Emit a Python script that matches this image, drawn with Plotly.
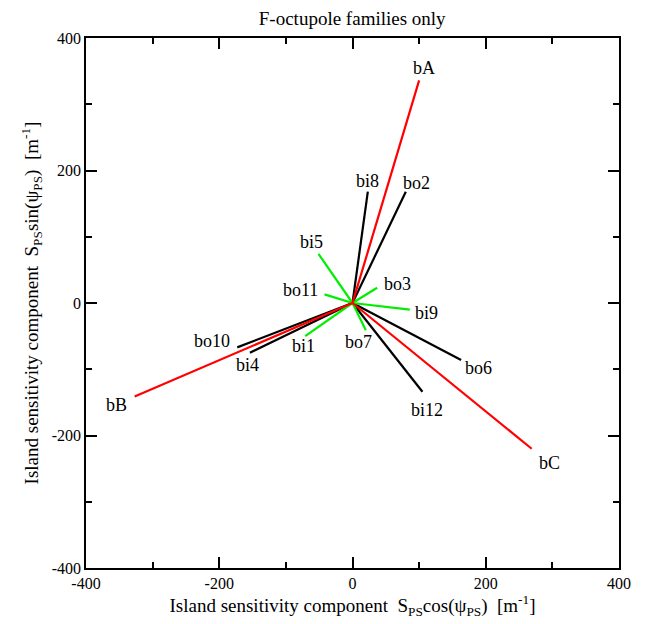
import plotly.graph_objects as go

# Data: endpoint of each family vector (x = S cos(psi), y = S sin(psi)) [m^-1]
red_names = ["bA", "bB", "bC"]
red_x = [100, -327, 269]
red_y = [336, -141, -220]

black_names = ["bi8", "bo2", "bo10", "bi4", "bo6", "bi12"]
black_x = [23, 80, -173, -154, 163, 105]
black_y = [168, 168, -67, -75, -86, -134]

green_names = ["bi5", "bo11", "bo3", "bi9", "bo7", "bi1"]
green_x = [-51, -42, 37, 86, 20, -71]
green_y = [74, 13, 23, -10, -41, -50]

x_ticks = [-400, -200, 0, 200, 400]
x_tick_labels = ["-400", "-200", "0", "200", "400"]
y_ticks = [-400, -200, 0, 200, 400]
y_tick_labels = ["-400", "-200", "0", "200", "400"]

# label offsets in pixels (dx right, dy down)
label_offset = {
    "bA": (5, -12), "bB": (-18, 9), "bC": (18, 14),
    "bi8": (0, -11), "bo2": (11, -9), "bo10": (-25, -6), "bi4": (-2, 12),
    "bo6": (17, 8), "bi12": (5, 18),
    "bi5": (-7, -12), "bo11": (-24, -4), "bo3": (20, -4), "bi9": (17, 3),
    "bo7": (-7, 12), "bi1": (-2, 10),
}

SERIF = "Liberation Serif"
fig = go.Figure()
annotations = []
for names, xs, ys, color in [
    (black_names, black_x, black_y, "#000000"),
    (green_names, green_x, green_y, "#00ee00"),
    (red_names, red_x, red_y, "#ff0000"),
]:
    for n, x, y in zip(names, xs, ys):
        fig.add_trace(go.Scatter(x=[0, x], y=[0, y], mode="lines",
                                 line=dict(color=color, width=2.2),
                                 showlegend=False, hoverinfo="skip"))
        dx, dy = label_offset[n]
        annotations.append(dict(x=x, y=y, xref="x", yref="y", text=n,
                                showarrow=False, xshift=dx, yshift=-dy,
                                font=dict(family=SERIF, size=18, color="black")))

axis_common = dict(
    showgrid=False, zeroline=False, showline=True, linecolor="black",
    linewidth=1.5, mirror="allticks", ticks="inside", ticklen=11,
    tickwidth=1.5, tickcolor="black",
    tickfont=dict(family=SERIF, size=16, color="black"),
    minor=dict(ticks="inside", ticklen=6, tickwidth=1.5, tickcolor="black", dtick=100),
)

fig.update_layout(
    width=647, height=624,
    margin=dict(l=78, r=36, t=30, b=64),
    paper_bgcolor="white", plot_bgcolor="white",
    title=dict(text="F-octupole families only", x=0.532, xanchor="center",
               y=0.984, yanchor="middle",
               font=dict(family=SERIF, size=19, color="black")),
    xaxis=dict(range=[-400, 400], tickvals=x_ticks, ticktext=x_tick_labels,
               title=dict(text="Island sensitivity component  S<sub>PS</sub>cos(ψ<sub>PS</sub>)  [m<sup>-1</sup>]",
                          font=dict(family=SERIF, size=19, color="black"), standoff=4),
               **axis_common),
    yaxis=dict(range=[-400, 400], tickvals=y_ticks, ticktext=y_tick_labels,
               title=dict(text="Island sensitivity component  S<sub>PS</sub>sin(ψ<sub>PS</sub>)  [m<sup>-1</sup>]",
                          font=dict(family=SERIF, size=19, color="black"), standoff=8),
               **axis_common),
    annotations=annotations,
)

fig.write_html("out.html")
